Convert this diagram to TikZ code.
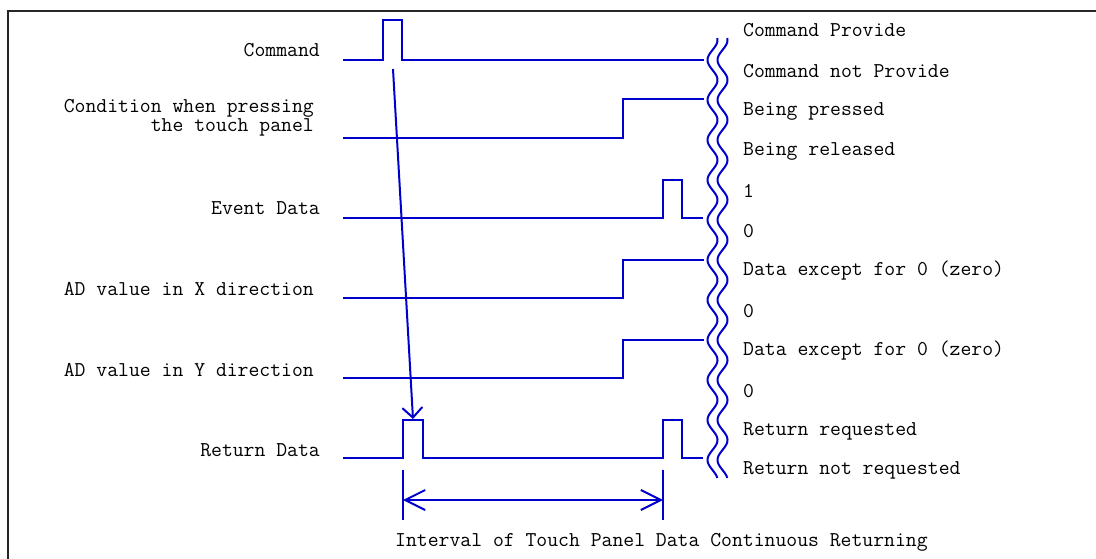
\documentclass[tikz,border=0pt]{standalone}
\usepackage{fontspec}
\usetikzlibrary{arrows.meta}
\definecolor{sig}{RGB}{0,0,205}
\begin{document}
\begin{tikzpicture}[x=1pt,y=-1pt,
  sigline/.style={draw=sig,line width=2pt},
  lbl/.style={font=\ttfamily\fontsize{21.1}{18}\selectfont, inner sep=0pt, text=black},
  llbl/.style={lbl,anchor=east},
  rlbl/.style={lbl,anchor=west},
  barb/.style={-{Straight Barb[length=10pt,width=20pt]}},
  dbl/.style={{Straight Barb[length=20pt,width=20pt]}-{Straight Barb[length=20pt,width=20pt]}}]
\useasboundingbox (0,0) rectangle (1096,559);
\draw[line width=2pt, black!85] (8,559) -- (8,11) -- (1096,11);

% left labels
\node[llbl] (lcmd) at (320,50) {Command};
\node[llbl,anchor=base east] (lcond) at (314,113) {Condition when pressing};
\node[llbl,anchor=base east] (lcond2) at (314,132) {the touch panel};
\node[llbl] (levt) at (320,208) {Event Data};
\node[llbl] (ladx) at (314,289) {AD value in X direction};
\node[llbl] (lady) at (314,370) {AD value in Y direction};
\node[llbl] (lret) at (320,450) {Return Data};

% signals
\draw[sigline] (343,60) -- (383,60) -- (383,20) -- (402,20) -- (402,60) -- (704,60);
\draw[sigline] (343,138) -- (623,138) -- (623,99) -- (704,99);
\draw[sigline] (343,218) -- (663,218) -- (663,180) -- (682,180) -- (682,218) -- (703,218);
\draw[sigline] (343,298) -- (623,298) -- (623,260) -- (704,260);
\draw[sigline] (343,378) -- (623,378) -- (623,340) -- (704,340);
\draw[sigline] (343,458) -- (403,458) -- (403,420) -- (423,420) -- (423,458) -- (663,458) -- (663,420) -- (682,420) -- (682,458) -- (703,458);

% wavy break lines
\draw[sigline] plot[domain=38:478, samples=300] ({712.5-5*cos(9*(\x-60))}, \x);
\draw[sigline] plot[domain=38:478, samples=300] ({722.5-5*cos(9*(\x-60))}, \x);

% arrow from command to return data
\coordinate (cmdfall) at (393,69);
\coordinate (rettop) at (413,419);
\draw[sigline,barb] (cmdfall) -- (rettop);

% interval
\coordinate (t1a) at (403,470); \coordinate (t1b) at (403,520);
\coordinate (t2a) at (663,470); \coordinate (t2b) at (663,520);
\coordinate (ia) at (403,500); \coordinate (ib) at (663,500);
\draw[sigline] (t1a) -- (t1b);
\draw[sigline] (t2a) -- (t2b);
\draw[sigline,dbl] (ia) -- (ib);
\node[rlbl] (lint) at (395,542) {Interval of Touch Panel Data Continuous Returning};

% right labels
\node[rlbl] (r1) at (743,30) {Command Provide};
\node[rlbl] (r2) at (743,71) {Command not Provide};
\node[rlbl] (r3) at (743,111) {Being pressed};
\node[rlbl] (r4) at (743,151) {Being released};
\node[rlbl] (r5) at (743,191) {1};
\node[rlbl] (r6) at (743,231) {0};
\node[rlbl] (r7) at (743,271) {Data except for 0 (zero)};
\node[rlbl] (r8) at (743,311) {0};
\node[rlbl] (r9) at (743,351) {Data except for 0 (zero)};
\node[rlbl] (r10) at (743,391) {0};
\node[rlbl] (r11) at (743,431) {Return requested};
\node[rlbl] (r12) at (743,470) {Return not requested};
\end{tikzpicture}
\end{document}
